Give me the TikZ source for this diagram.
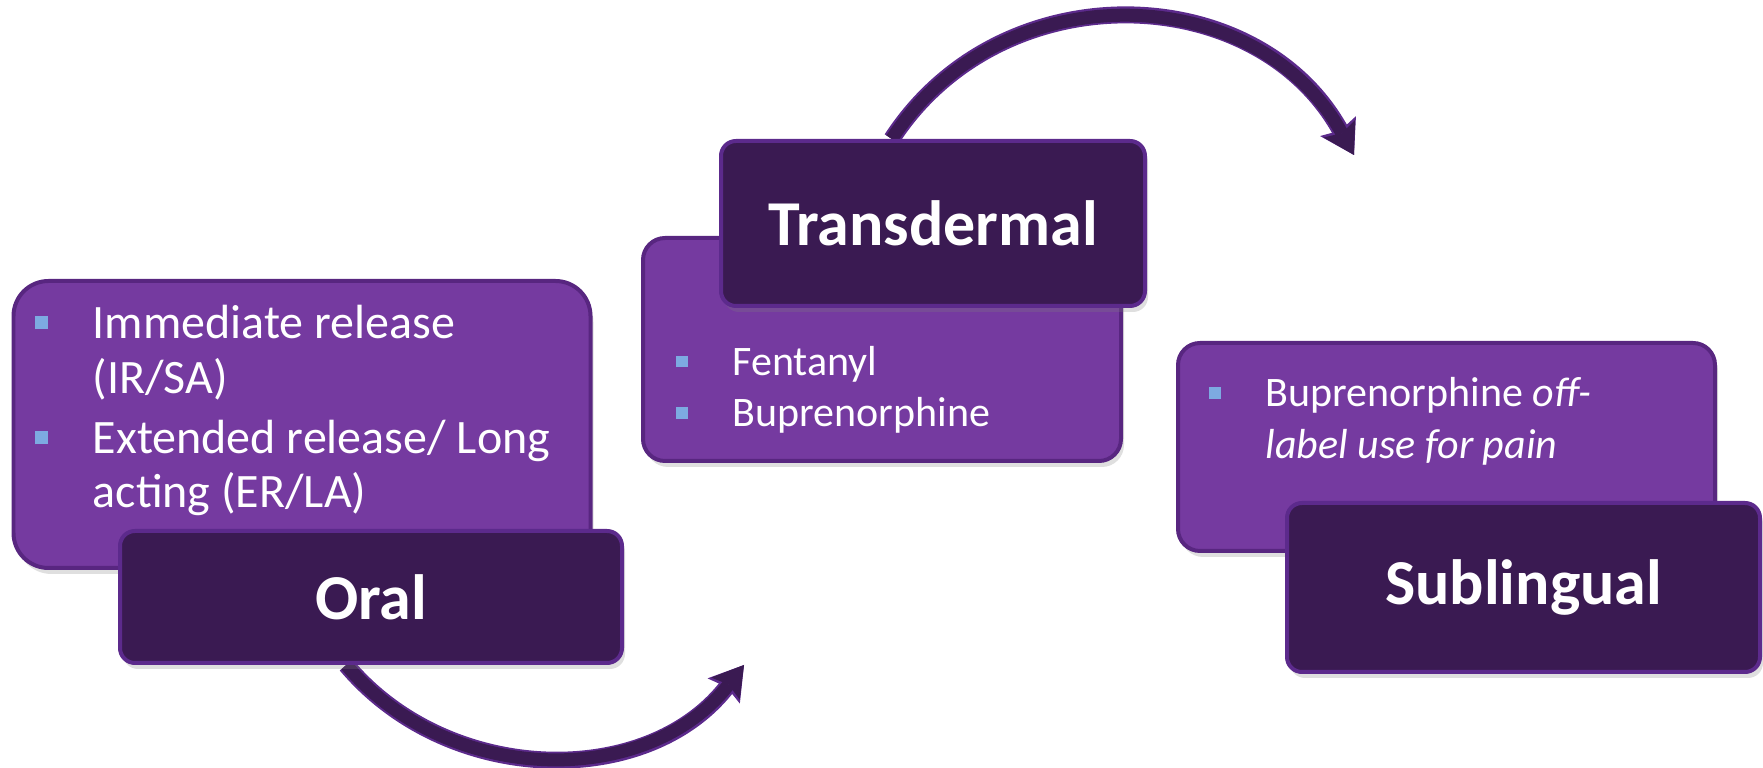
\documentclass[tikz,border=0pt]{standalone}
\usepackage{fontspec}
\setmainfont{Carlito}
\usetikzlibrary{arrows.meta,shadows,backgrounds}

\definecolor{lightbox}{RGB}{117,58,160}
\definecolor{lightedge}{RGB}{88,38,128}
\definecolor{darkbox}{RGB}{58,26,82}
\definecolor{darkedge}{RGB}{92,42,140}
\definecolor{bulletblue}{RGB}{125,170,225}

\newcommand{\bul}{\leavevmode\llap{\textcolor{bulletblue}{\rule[0.2em]{0.27em}{0.27em}}\hspace{0.45cm}}}

\begin{document}
\begin{tikzpicture}[
        listbox/.style={draw=lightedge,line width=0.04cm,fill=lightbox,rounded corners=0.22cm,
            drop shadow={opacity=0.25,shadow xshift=0.03cm,shadow yshift=-0.06cm}},
        titlebox/.style={draw=darkedge,line width=0.04cm,fill=darkbox,rounded corners=0.15cm,
            text=white,font=\fontsize{18.2}{20}\selectfont\bfseries,
            drop shadow={opacity=0.25,shadow xshift=0.03cm,shadow yshift=-0.06cm}},
        items/.style={text=white,align=left,inner sep=0pt,anchor=base west},
        turn/.style={draw=darkbox,line width=0.13cm,
            -{Stealth[length=0.3cm,width=0.36cm,inset=0.05cm,line width=0pt]},
            preaction={draw=darkedge,line width=0.17cm,
                -{Stealth[length=0.33cm,width=0.41cm,inset=0.05cm,line width=0pt]}}}
    ]
        \useasboundingbox (0,0) rectangle (17.63,7.68);

        \node[listbox,rounded corners=0.35cm,minimum width=5.77cm,minimum height=2.87cm] (oralbox) at (3.02,3.435) {};
        \node[titlebox,minimum width=5.02cm,minimum height=1.32cm] (oral) at (3.71,1.71) {Oral};
        \node[items,font=\fontsize{13.66}{15.4}\selectfont] (oraltxt) at (0.92,2.60)
            {\bul Immediate release\\(IR/SA)\\[1.9pt]\bul Extended release/ Long\\acting (ER/LA)};

        \node[listbox,minimum width=4.78cm,minimum height=2.23cm] (tdbox) at (8.82,4.185) {};
        \node[titlebox,minimum width=4.24cm,minimum height=1.65cm] (td) at (9.33,5.445) {Transdermal};
        \node[items,font=\fontsize{11.95}{14.6}\selectfont] (tdtxt) at (7.32,3.41)
            {\bul Fentanyl\\\bul Buprenorphine};

        \node[listbox,minimum width=5.37cm,minimum height=2.08cm] (slbox) at (14.465,3.21) {};
        \node[titlebox,minimum width=4.73cm,minimum height=1.69cm] (sl) at (15.235,1.805) {Sublingual};
        \node[items,font=\fontsize{11.95}{14.8}\selectfont] (sltxt) at (12.65,3.09)
            {\bul Buprenorphine \textit{off-}\\\textit{label use for pain}};

        \coordinate (tdin) at (7.44,1.03);
        \coordinate (slin) at (13.54,6.13);

        \begin{pgfonlayer}{background}
        \draw[turn] (oral.-110) to[out=-50,in=-128,looseness=1.02] (tdin);
        \draw[turn] (td.116) to[out=57,in=119,looseness=1.11] (slin);
        \end{pgfonlayer}
    \end{tikzpicture}
\end{document}
